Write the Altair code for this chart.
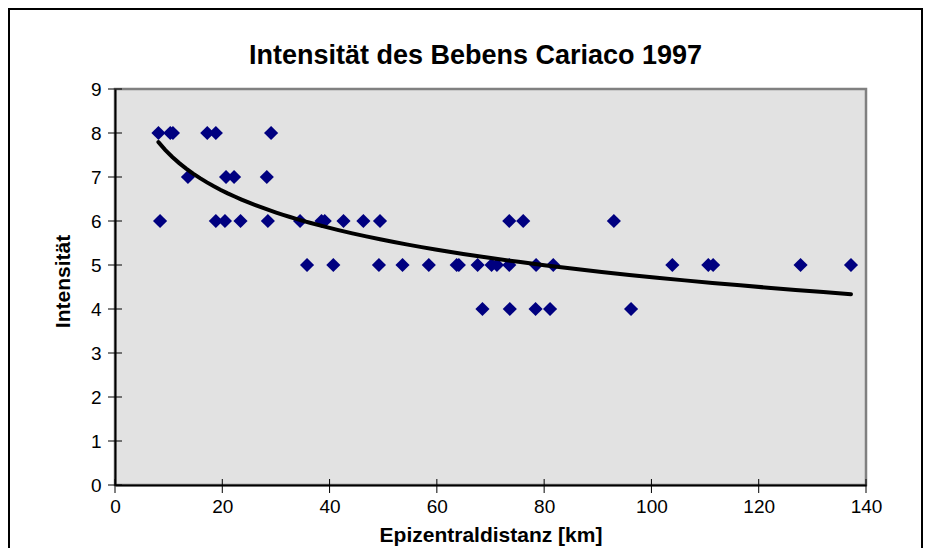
import altair as alt
import pandas as pd

# Epicentral distance [km] of observations, grouped by intensity
x_int8 = [8.1, 10.3, 10.8, 17.2, 18.8, 29.1]
x_int7 = [13.6, 20.7, 22.2, 28.3]
x_int6 = [8.4, 18.8, 20.5, 23.4, 28.5, 34.5, 38.5, 39.1, 42.6, 46.3, 49.4, 73.5, 76.1, 93.0]
x_int5 = [35.8, 40.7, 49.2, 53.6, 58.5, 63.7, 64.1, 67.6, 70.2, 71.2, 73.5, 78.5, 81.7,
          103.9, 110.6, 111.5, 127.8, 137.2]
x_int4 = [68.5, 73.6, 78.4, 81.1, 96.2]

x_ticks = [0, 20, 40, 60, 80, 100, 120, 140]
y_ticks = [0, 1, 2, 3, 4, 5, 6, 7, 8, 9]

rows = []
for val, xs in [(8, x_int8), (7, x_int7), (6, x_int6), (5, x_int5), (4, x_int4)]:
    for d in xs:
        rows.append({"dist": d, "int": val})
df = pd.DataFrame(rows)

FONT = "Liberation Sans"
W, H = 751, 396

xs = alt.Scale(domain=[0, 140], nice=False, zero=False)
ys = alt.Scale(domain=[0, 9], nice=False, zero=False)

xaxis = alt.Axis(values=x_ticks, title="Epizentraldistanz [km]", labelFontSize=19,
                 labelPadding=12, labelFlush=False, labelOverlap=False,
                 titleFontSize=21, titleFontWeight="bold", titleY=56,
                 titleBaseline="alphabetic")
yaxis = alt.Axis(values=y_ticks, title="Intensität", labelFontSize=19, labelPadding=14,
                 labelOverlap=False, titleFontSize=21, titleFontWeight="bold",
                 titleX=-52, titleY=192, titleBaseline="middle", titleAlign="center",
                 titleAngle=270)

points = alt.Chart(df).mark_point(shape="diamond", filled=True, size=200,
                                  color="#000080", opacity=1).encode(
    x=alt.X("dist:Q", scale=xs, axis=xaxis),
    y=alt.Y("int:Q", scale=ys, axis=yaxis),
)

trend = alt.Chart(df).transform_regression("dist", "int", method="log").mark_line(
    color="black", strokeWidth=4, strokeCap="round").encode(
    x=alt.X("dist:Q", scale=xs),
    y=alt.Y("int:Q", scale=ys),
)

ytick_df = pd.DataFrame({"int": y_ticks})
xtick_df = pd.DataFrame({"dist": x_ticks})

yticks = alt.Chart(ytick_df).mark_rule(color="black", strokeWidth=1).encode(
    y=alt.Y("int:Q", scale=ys), x=alt.value(-7), x2=alt.value(7))
xticks = alt.Chart(xtick_df).mark_rule(color="black", strokeWidth=1).encode(
    x=alt.X("dist:Q", scale=xs), y=alt.value(H - 6), y2=alt.value(H + 8))

frame = alt.Chart(pd.DataFrame({"a": [0]})).mark_rect(
    fill="transparent", stroke="black", strokeWidth=2).encode(
    x=alt.value(-106), x2=alt.value(807), y=alt.value(-80), y2=alt.value(500))

chart = alt.layer(frame, points, trend, yticks, xticks).properties(
    width=W, height=H,
    autosize="none",
    padding={"left": 107, "top": 81, "right": 57, "bottom": 63},
    title=alt.TitleParams("Intensität des Bebens Cariaco 1997", fontSize=27,
                          fontWeight="bold", font=FONT, color="black",
                          anchor="middle", frame="group", dx=-15, offset=0,
                          dy=83, baseline="alphabetic"),
).configure_view(
    fill="#E2E2E2", stroke="#808080", strokeWidth=2.5
).configure_axis(
    grid=False, ticks=False, domainColor="black", domainWidth=2,
    labelFont=FONT, titleFont=FONT, labelColor="black", titleColor="black",
)

chart.save("out.html", embed_options={"renderer": "svg", "actions": False})
